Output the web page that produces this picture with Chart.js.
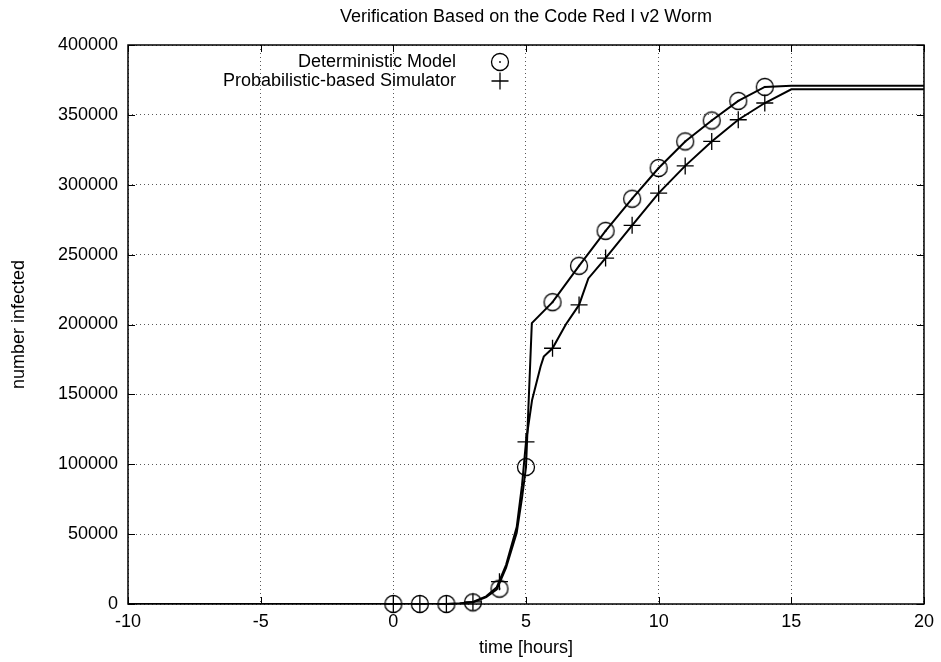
<!DOCTYPE html>
<html>
<head>
<meta charset="utf-8">
<title>Verification Based on the Code Red I v2 Worm</title>
<script src="https://cdn.jsdelivr.net/npm/chart.js@4.4.1/dist/chart.umd.min.js"></script>
<style>
  html, body { margin: 0; padding: 0; background: #fff; }
</style>
</head>
<body>
<canvas id="wormChart" width="941" height="662"></canvas>
<script>
// values
const markerHours = [0, 1, 2, 3, 4, 5, 6, 7, 8, 9, 10, 11, 12, 13, 14];
const detMarkers = [0, 0, 0, 1200, 11000, 98000, 216000, 242000, 267000, 290000, 312000, 331000, 346000, 360000, 370000];
const simMarkers = [0, 0, 0, 1500, 16000, 116000, 183000, 214000, 247500, 271000, 294000, 313500, 331000, 346500, 358500];

const detCurveT = [-10, 0, 1, 2, 2.5, 3, 3.5, 3.9, 4.25, 4.65, 4.85, 5, 5.22, 6, 7, 8, 9, 10, 11, 12, 13, 14, 15, 20];
const detCurveV = [0, 0, 0, 0, 300, 1200, 5000, 10500, 26000, 51000, 76000, 98000, 201000, 216000, 242000, 267000, 290000, 312000, 331000, 346000, 360000, 370000, 370800, 370800];

const simCurveT = [-10, 0, 1, 2, 2.5, 3, 3.5, 3.9, 4.25, 4.65, 4.85, 5, 5.23, 5.55, 5.67, 6, 6.5, 7, 7.35, 8, 9, 10, 11, 12, 13, 14, 15, 20];
const simCurveV = [0, 0, 0, 0, 400, 1500, 5500, 12000, 28000, 55000, 85000, 116000, 146000, 170000, 177000, 183000, 200000, 214000, 233000, 247500, 271000, 294000, 313500, 331000, 346500, 358500, 368300, 368300];

const xTicks = [-10, -5, 0, 5, 10, 15, 20];
const yTicks = [0, 50000, 100000, 150000, 200000, 250000, 300000, 350000, 400000];

const FONT = '"Liberation Sans", Arial, Helvetica, sans-serif';
const FONT_SIZE = 18;

function toPoints(xs, ys) {
    return xs.map((x, i) => ({ x: x, y: ys[i] }));
}

// circle with a dot in the middle
function makeCircleDot() {
    const c = document.createElement('canvas');
    c.width = 22;
    c.height = 22;
    const g = c.getContext('2d');
    g.strokeStyle = '#000';
    g.lineWidth = 1.3;
    g.beginPath();
    g.arc(11, 11, 8.5, 0, Math.PI * 2);
    g.stroke();
    g.fillStyle = '#000';
    g.beginPath();
    g.arc(11, 11, 0.9, 0, Math.PI * 2);
    g.fill();
    return c;
}
const circleDot = makeCircleDot();

// full box + inward tics on all four sides
const framePlugin = {
    id: 'frame',
    afterDraw(chart) {
        const { ctx, chartArea: a, scales: { x, y } } = chart;
        ctx.save();
        ctx.strokeStyle = '#000';
        ctx.lineWidth = 1;
        ctx.beginPath();
        xTicks.forEach(v => {
            const px = Math.round(x.getPixelForValue(v)) + 0.5;
            ctx.moveTo(px, a.bottom); ctx.lineTo(px, a.bottom - 7);
            ctx.moveTo(px, a.top); ctx.lineTo(px, a.top + 7);
        });
        yTicks.forEach(v => {
            const py = Math.round(y.getPixelForValue(v)) + 0.5;
            ctx.moveTo(a.left, py); ctx.lineTo(a.left + 7, py);
            ctx.moveTo(a.right, py); ctx.lineTo(a.right - 7, py);
        });
        ctx.stroke();
        ctx.lineWidth = 1.5;
        ctx.strokeRect(a.left, a.top, a.right - a.left, a.bottom - a.top);
        ctx.restore();
    }
};

// gnuplot style key: right aligned text, sample to the right
const keyPlugin = {
    id: 'gnuKey',
    afterDraw(chart) {
        const { ctx, chartArea: a } = chart;
        const textX = a.left + 328;
        const symX = a.left + 372;
        const rows = [a.top + 17, a.top + 36];
        ctx.save();
        ctx.font = FONT_SIZE + 'px ' + FONT;
        ctx.fillStyle = '#000';
        ctx.textAlign = 'right';
        ctx.textBaseline = 'middle';
        ctx.fillText('Deterministic Model', textX, rows[0]);
        ctx.fillText('Probabilistic-based Simulator', textX, rows[1]);
        ctx.drawImage(circleDot, symX - 11, rows[0] - 11);
        ctx.strokeStyle = '#000';
        ctx.lineWidth = 1.3;
        ctx.beginPath();
        ctx.moveTo(symX - 8.5, rows[1]); ctx.lineTo(symX + 8.5, rows[1]);
        ctx.moveTo(symX, rows[1] - 8.5); ctx.lineTo(symX, rows[1] + 8.5);
        ctx.stroke();
        ctx.restore();
    }
};

const ctx = document.getElementById('wormChart').getContext('2d');

new Chart(ctx, {
    type: 'scatter',
    data: {
        datasets: [
            {
                label: 'Deterministic Model (curve)',
                data: toPoints(detCurveT, detCurveV),
                showLine: true,
                borderColor: '#000',
                borderWidth: 2,
                pointRadius: 0,
                tension: 0
            },
            {
                label: 'Probabilistic-based Simulator (curve)',
                data: toPoints(simCurveT, simCurveV),
                showLine: true,
                borderColor: '#000',
                borderWidth: 2,
                pointRadius: 0,
                tension: 0
            },
            {
                label: 'Deterministic Model',
                data: toPoints(markerHours, detMarkers),
                showLine: false,
                pointStyle: circleDot,
                pointRadius: 9,
                clip: false
            },
            {
                label: 'Probabilistic-based Simulator',
                data: toPoints(markerHours, simMarkers),
                showLine: false,
                pointStyle: 'cross',
                pointRadius: 8.5,
                borderColor: '#000',
                borderWidth: 1.3,
                clip: false
            }
        ]
    },
    options: {
        responsive: false,
        animation: false,
        events: [],
        layout: { padding: { left: 0, right: 15, top: 0, bottom: 0 } },
        plugins: {
            legend: { display: false },
            tooltip: { enabled: false },
            title: {
                display: true,
                fullSize: false,
                text: 'Verification Based on the Code Red I v2 Worm',
                color: '#000',
                font: { family: FONT, size: FONT_SIZE, weight: 'normal' },
                padding: { top: 6, bottom: 17.4 }
            }
        },
        scales: {
            x: {
                type: 'linear',
                min: -10,
                max: 20,
                afterFit: s => { s.height = 58; },
                afterBuildTicks: s => { s.ticks = xTicks.map(v => ({ value: v })); },
                grid: { color: 'rgba(0,0,0,0.65)', lineWidth: 1, drawTicks: false },
                border: { display: false, dash: [1, 3] },
                ticks: {
                    color: '#000',
                    padding: 7,
                    maxRotation: 0,
                    autoSkip: false,
                    font: { family: FONT, size: FONT_SIZE },
                    callback: v => String(v)
                },
                title: {
                    display: true,
                    text: 'time [hours]',
                    color: '#000',
                    font: { family: FONT, size: FONT_SIZE },
                    padding: { top: 0, bottom: 3 }
                }
            },
            y: {
                type: 'linear',
                min: 0,
                max: 400000,
                afterFit: s => { s.width = 128; },
                afterBuildTicks: s => { s.ticks = yTicks.map(v => ({ value: v })); },
                grid: { color: 'rgba(0,0,0,0.65)', lineWidth: 1, drawTicks: false },
                border: { display: false, dash: [1, 3] },
                ticks: {
                    color: '#000',
                    padding: 10,
                    autoSkip: false,
                    font: { family: FONT, size: FONT_SIZE },
                    callback: v => String(v)
                },
                title: {
                    display: true,
                    text: 'number infected',
                    color: '#000',
                    font: { family: FONT, size: FONT_SIZE },
                    padding: { top: 8, bottom: 0 }
                }
            }
        }
    },
    plugins: [framePlugin, keyPlugin]
});
</script>
</body>
</html>
